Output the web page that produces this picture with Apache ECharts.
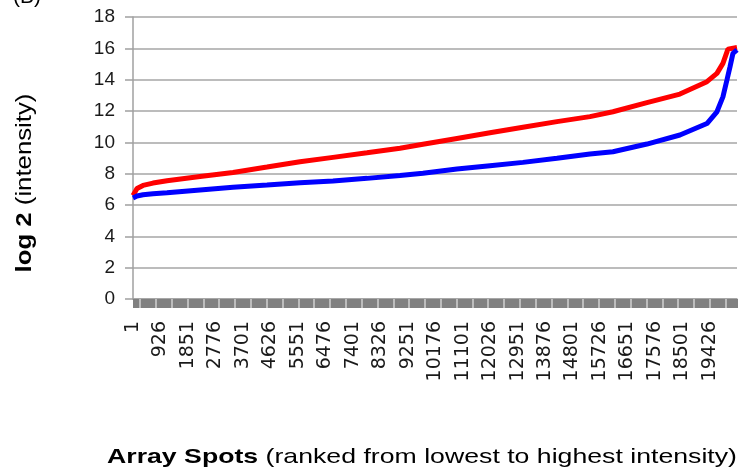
<!DOCTYPE html>
<html>
<head>
<meta charset="utf-8">
<script src="https://cdn.jsdelivr.net/npm/echarts@6/dist/echarts.min.js"></script>
<style>
html, body { margin: 0; padding: 0; background: #fff; }
#chart { width: 744px; height: 473px; }
</style>
</head>
<body>
<div id="chart"></div>
<script>
// number of array spots on the x axis (ranked 1..N)
const spotCount = 20340;
const labelStep = 925;

// red curve (rank index, log2 intensity)
const redRank = [0, 135, 337, 673, 1145, 2256, 3367, 4512, 5623, 6734, 7879, 8990, 9764, 10909,
  12020, 13131, 14276, 15387, 16162, 17306, 18417, 19327, 19663, 19865, 20034, 20339];
const redValue = [6.6, 7.05, 7.25, 7.4, 7.55, 7.82, 8.08, 8.42, 8.76, 9.04, 9.33, 9.62, 9.88, 10.25,
  10.61, 10.96, 11.32, 11.64, 11.95, 12.53, 13.08, 13.87, 14.4, 15.04, 15.95, 16.05];

// blue curve
const blueRank = [0, 135, 337, 673, 1145, 2256, 3367, 4512, 5623, 6734, 7879, 8990, 9764, 10909,
  12020, 13131, 14276, 15387, 16162, 17306, 18417, 19327, 19663, 19865, 20000, 20101, 20202, 20339];
const blueValue = [6.45, 6.57, 6.65, 6.72, 6.78, 6.96, 7.13, 7.27, 7.42, 7.53, 7.7, 7.88, 8.02, 8.3,
  8.51, 8.72, 8.98, 9.25, 9.4, 9.89, 10.47, 11.2, 11.95, 12.9, 13.98, 14.8, 15.68, 15.9];

const yMin = 0, yMax = 18, yStep = 2;

const spots = [];
for (let i = 1; i <= spotCount; i++) spots.push(String(i));

const chart = echarts.init(document.getElementById('chart'));

const option = {
  animation: false,
  backgroundColor: '#fff',
  grid: { left: 133, right: 7, top: 17, bottom: 174 },
  xAxis: [
    {
      type: 'category',
      data: spots,
      boundaryGap: false,
      axisLine: { lineStyle: { color: '#a0a0a0', width: 1.5 } },
      axisTick: { show: true, interval: 15, length: 9, lineStyle: { color: '#808080', width: 1 } },
      axisLabel: {
        interval: labelStep - 1,
        rotate: 90,
        margin: 22,
        fontFamily: 'DejaVu Sans',
        fontSize: 19,
        color: '#1a1a1a'
      },
      splitLine: { show: false }
    },
    {
      // light separators inside the tick band
      type: 'category',
      data: spots,
      boundaryGap: false,
      position: 'bottom',
      axisLine: { show: false },
      axisTick: {
        show: true,
        interval: function (i) { return i >= 236 && (i - 236) % 533 === 0; },
        length: 9,
        lineStyle: { color: '#cfcfcf', width: 1.5 }
      },
      axisLabel: { show: false },
      splitLine: { show: false }
    }
  ],
  yAxis: {
    type: 'value',
    min: yMin,
    max: yMax,
    interval: yStep,
    axisLine: { show: true, lineStyle: { color: '#a0a0a0', width: 1.5 } },
    axisTick: { show: true, length: 8, lineStyle: { color: '#a0a0a0', width: 1.5 } },
    axisLabel: {
      margin: 18,
      fontFamily: 'Liberation Sans',
      fontSize: 19,
      color: '#1a1a1a'
    },
    splitLine: { lineStyle: { color: '#a6a6a6', width: 1.5 } }
  },
  series: [
    {
      name: 'red',
      type: 'line',
      showSymbol: false,
      lineStyle: { color: '#ff0000', width: 5 },
      data: redRank.map((r, i) => [r, redValue[i]])
    },
    {
      name: 'blue',
      type: 'line',
      showSymbol: false,
      lineStyle: { color: '#0000ff', width: 5 },
      data: blueRank.map((r, i) => [r, blueValue[i]])
    }
  ],
  graphic: [
    {
      type: 'text',
      left: 13,
      top: -13,
      style: { text: '(B)', font: '21px "Liberation Sans"', fill: '#000' }
    },
    {
      type: 'text',
      x: 25,
      y: 183,
      rotation: Math.PI / 2,
      scaleX: 1.17,
      style: {
        text: '{b|log 2} (intensity)',
        align: 'center',
        verticalAlign: 'middle',
        font: '22px "Liberation Sans"',
        fill: '#000',
        rich: { b: { fontWeight: 'bold', fontSize: 22, fontFamily: 'Liberation Sans' } }
      }
    },
    {
      type: 'text',
      x: 422,
      y: 457,
      scaleX: 1.27,
      style: {
        text: '{b|Array Spots} (ranked from lowest to highest intensity)',
        align: 'center',
        verticalAlign: 'middle',
        font: '21px "Liberation Sans"',
        fill: '#000',
        rich: { b: { fontWeight: 'bold', fontSize: 21, fontFamily: 'Liberation Sans' } }
      }
    }
  ]
};

chart.setOption(option);
</script>
</body>
</html>
